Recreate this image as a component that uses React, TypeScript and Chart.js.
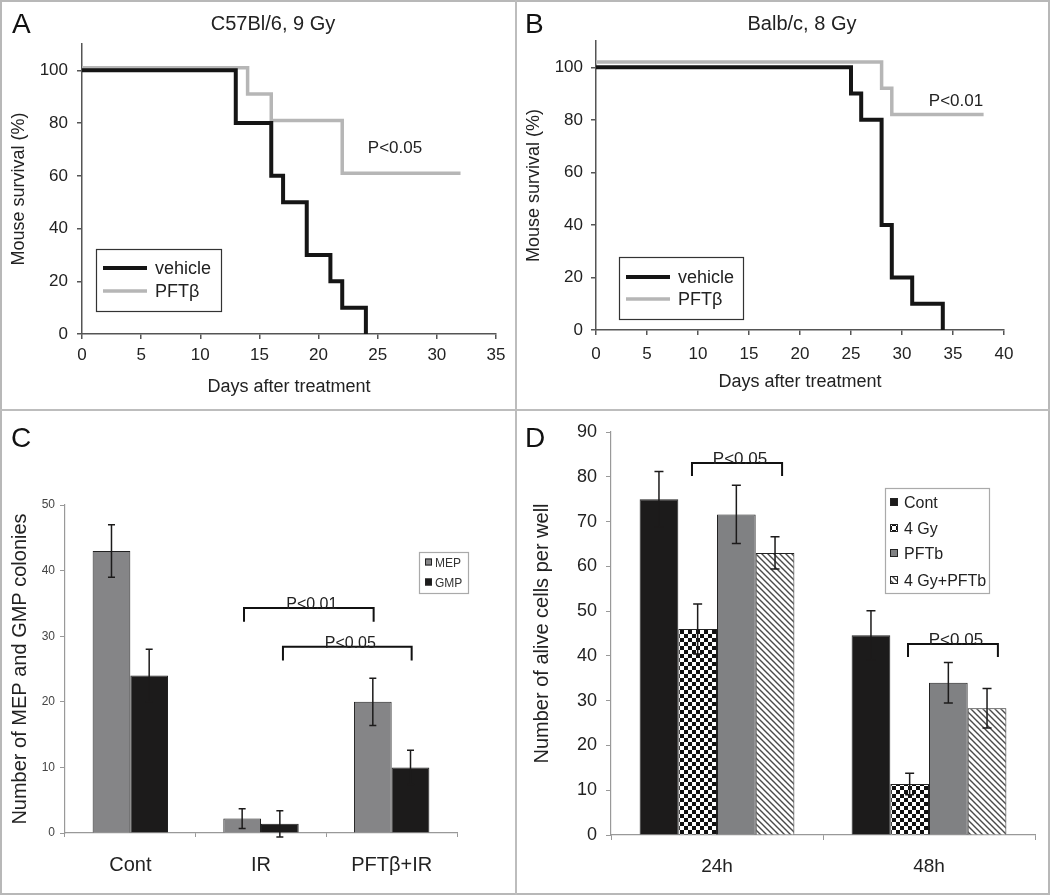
import { useEffect, useRef } from 'react';
import { Chart, registerables } from 'chart.js';
Chart.register(...registerables);

const FONT = '"Liberation Sans", Arial, Helvetica, sans-serif';
const BLACK = '#1c1b1b';

// ---------- Panel A : C57Bl/6, 9 Gy ----------
const titleA = 'C57Bl/6, 9 Gy';
const daysAVehicle = [0, 13, 16, 17, 19, 21, 22, 24];
const survAVehicle = [100, 80, 60, 50, 30, 20, 10, 0];
const daysAPft = [0, 14, 16, 22, 32];
const survAPft = [101, 91, 81, 61, 61];
const pA = 'P<0.05';

// ---------- Panel B : Balb/c, 8 Gy ----------
const titleB = 'Balb/c, 8 Gy';
const daysBVehicle = [0, 25, 26, 28, 29, 31, 34];
const survBVehicle = [100, 90, 80, 40, 20, 10, 0];
const daysBPft = [0, 28, 29, 38];
const survBPft = [102, 92, 82, 82];
const pB = 'P<0.01';

const seriesNames = ['vehicle', 'PFTβ'];

// ---------- Panel C ----------
const catsC = ['Cont', 'IR', 'PFTβ+IR'];
const mepC = [43, 2.2, 20];
const mepErrC = [4, 1.5, 3.6];
const gmpC = [24, 1.4, 10];
const gmpErrC = [4, 2, 2.6];
const bracketsC = [
  { x1: 0.87, x2: 1.862, y: 34.3, drop: 2.1, text: 'P<0.01' },
  { x1: 1.168, x2: 2.153, y: 28.4, drop: 2.1, text: 'P<0.05' },
];

// ---------- Panel D ----------
const catsD = ['24h', '48h'];
const contD = [75, 44.6];
const contErrD = [6.2, 5.5];
const gy4D = [46, 11.4];
const gy4ErrD = [5.6, 2.4];
const pftbD = [71.6, 34];
const pftbErrD = [6.5, 4.5];
const comboD = [63, 28.3];
const comboErrD = [3.6, 4.4];
const bracketsD = [
  { x1: -0.118, x2: 0.307, y: 83.1, drop: 2.9, text: 'P<0.05' },
  { x1: 0.901, x2: 1.325, y: 42.65, drop: 2.9, text: 'P<0.05' },
];

function makeChecker(): CanvasPattern {
  const c = document.createElement('canvas');
  c.width = 8; c.height = 8;
  const g = c.getContext('2d')!;
  g.fillStyle = '#ffffff'; g.fillRect(0, 0, 8, 8);
  g.fillStyle = '#111111'; g.fillRect(0, 0, 4, 4); g.fillRect(4, 4, 4, 4);
  return g.createPattern(c, 'repeat')!;
}
function makeHatch(): CanvasPattern {
  const c = document.createElement('canvas');
  c.width = 6; c.height = 6;
  const g = c.getContext('2d')!;
  g.fillStyle = '#ffffff'; g.fillRect(0, 0, 6, 6);
  g.strokeStyle = '#4a4a4a'; g.lineWidth = 1.4;
  g.beginPath();
  g.moveTo(-1, -1); g.lineTo(7, 7);
  g.moveTo(-1, 5); g.lineTo(1, 7);
  g.moveTo(5, -1); g.lineTo(7, 1);
  g.stroke();
  return g.createPattern(c, 'repeat')!;
}

function overlay(draw: (chart: any) => void) {
  return { id: 'overlay', afterDraw(chart: any) { const ctx = chart.ctx; ctx.save(); draw(chart); ctx.restore(); } };
}

function errorBars(cap: number) {
  return {
    id: 'errbars',
    afterDatasetsDraw(chart: any) {
      const ctx = chart.ctx; const ys = chart.scales.y;
      chart.data.datasets.forEach((ds: any, di: number) => {
        const meta = chart.getDatasetMeta(di);
        meta.data.forEach((bar: any, i: number) => {
          const v = ds.data[i]; const e = ds.errors[i];
          const x = bar.x; const yt = ys.getPixelForValue(v + e); const yb = ys.getPixelForValue(v - e);
          ctx.save(); ctx.strokeStyle = BLACK; ctx.lineWidth = 1.5;
          ctx.beginPath();
          ctx.moveTo(x, yt); ctx.lineTo(x, yb);
          ctx.moveTo(x - cap, yt); ctx.lineTo(x + cap, yt);
          ctx.moveTo(x - cap, yb); ctx.lineTo(x + cap, yb);
          ctx.stroke(); ctx.restore();
        });
      });
    },
  };
}

function drawBrackets(chart: any, list: any[], fontSize: number) {
  const ctx = chart.ctx; const xs = chart.scales.x; const ys = chart.scales.y;
  list.forEach((b) => {
    const x1 = xs.getPixelForValue(b.x1); const x2 = xs.getPixelForValue(b.x2);
    const y = ys.getPixelForValue(b.y); const y2 = ys.getPixelForValue(b.y - b.drop);
    ctx.strokeStyle = '#111'; ctx.lineWidth = 2;
    ctx.beginPath(); ctx.moveTo(x1, y2); ctx.lineTo(x1, y); ctx.lineTo(x2, y); ctx.lineTo(x2, y2); ctx.stroke();
    ctx.fillStyle = '#222'; ctx.font = `${fontSize}px ${FONT}`; ctx.textAlign = 'center'; ctx.textBaseline = 'alphabetic';
    ctx.fillText(b.text, (x1 + x2) / 2 + 3, y + 1);
  });
}

function lineLegend(chart: any, box: number[], lx: number[], tx: number, rowY: number[]) {
  const ctx = chart.ctx;
  ctx.strokeStyle = '#333'; ctx.lineWidth = 1.2;
  ctx.strokeRect(box[0] + 0.5, box[1] + 0.5, box[2], box[3]);
  chart.data.datasets.forEach((ds: any, i: number) => {
    ctx.strokeStyle = ds.borderColor; ctx.lineWidth = ds.borderWidth;
    ctx.beginPath(); ctx.moveTo(lx[0], rowY[i]); ctx.lineTo(lx[1], rowY[i]); ctx.stroke();
    ctx.fillStyle = '#222'; ctx.font = `18px ${FONT}`; ctx.textAlign = 'left'; ctx.textBaseline = 'alphabetic';
    ctx.fillText(ds.label, tx, rowY[i] + 6);
  });
}

function survivalConfig(p: any) {
  return {
    type: 'line',
    data: {
      datasets: [
        { label: seriesNames[0], data: p.vx.map((x: number, i: number) => ({ x, y: p.vy[i] })), borderColor: '#151515', borderWidth: 4, stepped: 'before', pointRadius: 0, fill: false, borderJoinStyle: 'miter' },
        { label: seriesNames[1], data: p.px.map((x: number, i: number) => ({ x, y: p.py[i] })), borderColor: '#b6b6b6', borderWidth: 3.5, stepped: 'before', pointRadius: 0, fill: false, borderJoinStyle: 'miter' },
      ],
    },
    options: {
      animation: false, responsive: false, devicePixelRatio: 1, events: [],
      layout: { padding: { left: 0, top: p.top, right: p.right, bottom: 0 } },
      plugins: { legend: { display: false }, tooltip: { enabled: false } },
      scales: {
        x: {
          type: 'linear', min: 0, max: p.xmax,
          ticks: { stepSize: 5, font: { size: 17, family: FONT }, color: '#222', padding: p.xtp },
          grid: { drawOnChartArea: false, tickLength: 5, color: '#555', lineWidth: 1.5 },
          border: { color: '#555', width: 1.5 },
          title: { display: true, text: 'Days after treatment', font: { size: 18, family: FONT }, color: '#222', padding: { top: 0, bottom: p.xtitle } },
          afterFit(s: any) { s.height = p.xh; s.paddingLeft = 0; s.paddingRight = 0; },
        },
        y: {
          min: 0, max: 110,
          ticks: { stepSize: 20, font: { size: 17, family: FONT }, color: '#222', padding: p.ytp },
          afterBuildTicks(s: any) { s.ticks = s.ticks.filter((t: any) => t.value <= 100); },
          grid: { drawOnChartArea: false, tickLength: 5, color: '#555', lineWidth: 1.5 },
          border: { color: '#555', width: 1.5 },
          title: { display: true, text: 'Mouse survival (%)', font: { size: 18, family: FONT }, color: '#222', padding: { top: p.ytitle, bottom: 0 } },
          afterFit(s: any) { s.width = p.yw; s.paddingTop = 0; s.paddingBottom = 0; },
        },
      },
    },
    plugins: [overlay(p.draw)],
  };
}

function configA() {
  return survivalConfig({
    vx: daysAVehicle, vy: survAVehicle, px: daysAPft, py: survAPft, xmax: 35,
    top: 44, right: 20, xh: 76, yw: 82, xtp: 6, ytp: 9, xtitle: 12, ytitle: 8,
    draw: (chart: any) => {
      const ctx = chart.ctx;
      ctx.fillStyle = '#111'; ctx.textBaseline = 'alphabetic';
      ctx.font = `28px ${FONT}`; ctx.textAlign = 'left'; ctx.fillText('A', 12, 33);
      ctx.font = `20px ${FONT}`; ctx.textAlign = 'center'; ctx.fillStyle = '#222'; ctx.fillText(titleA, 273, 30);
      ctx.font = `17px ${FONT}`; ctx.fillText(pA, 395, 153);
      lineLegend(chart, [96, 249, 125, 62], [103, 147], 155, [268, 291]);
    },
  });
}

function configB() {
  return survivalConfig({
    vx: daysBVehicle, vy: survBVehicle, px: daysBPft, py: survBPft, xmax: 40,
    top: 41, right: 46, xh: 80, yw: 80, xtp: 9, ytp: 8, xtitle: 17, ytitle: 7,
    draw: (chart: any) => {
      const ctx = chart.ctx;
      ctx.fillStyle = '#111'; ctx.textBaseline = 'alphabetic';
      ctx.font = `28px ${FONT}`; ctx.textAlign = 'left'; ctx.fillText('B', 9, 33);
      ctx.font = `20px ${FONT}`; ctx.textAlign = 'center'; ctx.fillStyle = '#222'; ctx.fillText(titleB, 286, 30);
      ctx.font = `17px ${FONT}`; ctx.fillText(pB, 440, 106);
      lineLegend(chart, [103, 257, 124, 62], [110, 154], 162, [277, 299]);
    },
  });
}

function configC() {
  return {
    type: 'bar',
    data: {
      labels: catsC,
      datasets: [
        { label: 'MEP', data: mepC, errors: mepErrC, backgroundColor: '#858587', borderColor: '#222', borderWidth: 1 },
        { label: 'GMP', data: gmpC, errors: gmpErrC, backgroundColor: BLACK, borderColor: '#222', borderWidth: 1 },
      ],
    },
    options: {
      animation: false, responsive: false, devicePixelRatio: 1, events: [],
      layout: { padding: { left: 0, top: 95, right: 59, bottom: 0 } },
      datasets: { bar: { categoryPercentage: 0.577, barPercentage: 1 } },
      plugins: { legend: { display: false }, tooltip: { enabled: false } },
      scales: {
        x: {
          ticks: { font: { size: 20, family: FONT }, color: '#222', padding: 16 },
          grid: { drawOnChartArea: false, tickLength: 4, color: '#999', offset: true },
          border: { color: '#999', width: 1.2 },
          afterFit(s: any) { s.height = 62; s.paddingLeft = 0; s.paddingRight = 0; },
        },
        y: {
          min: 0, max: 50,
          ticks: { stepSize: 10, font: { size: 12, family: FONT }, color: '#444', padding: 5 },
          grid: { drawOnChartArea: false, tickLength: 5, color: '#999' },
          border: { color: '#999', width: 1.2 },
          title: { display: true, text: 'Number of MEP and GMP colonies', font: { size: 20, family: FONT }, color: '#222', padding: { top: 8, bottom: 0 } },
          afterFit(s: any) { s.width = 65; s.paddingTop = 0; s.paddingBottom = 0; },
        },
      },
    },
    plugins: [errorBars(3.5), overlay((chart: any) => {
      const ctx = chart.ctx;
      ctx.fillStyle = '#111'; ctx.textBaseline = 'alphabetic'; ctx.textAlign = 'left';
      ctx.font = `28px ${FONT}`; ctx.fillText('C', 11, 37);
      drawBrackets(chart, bracketsC, 16);
      ctx.strokeStyle = '#aaa'; ctx.lineWidth = 1.2; ctx.strokeRect(419.5, 142.5, 49, 41);
      const rows = [152, 172];
      chart.data.datasets.forEach((ds: any, i: number) => {
        ctx.fillStyle = ds.backgroundColor; ctx.fillRect(425, rows[i] - 3.5, 7, 7);
        ctx.strokeStyle = '#222'; ctx.lineWidth = 1; ctx.strokeRect(425.5, rows[i] - 3, 6, 6);
        ctx.fillStyle = '#333'; ctx.font = `12px ${FONT}`; ctx.textAlign = 'left'; ctx.fillText(ds.label, 435, rows[i] + 4.5);
      });
    })],
  };
}

function configD() {
  const checker = makeChecker();
  const hatch = makeHatch();
  return {
    type: 'bar',
    data: {
      labels: catsD,
      datasets: [
        { label: 'Cont', data: contD, errors: contErrD, backgroundColor: BLACK, borderColor: '#222', borderWidth: 1 },
        { label: '4 Gy', data: gy4D, errors: gy4ErrD, backgroundColor: checker, borderColor: '#222', borderWidth: 1 },
        { label: 'PFTb', data: pftbD, errors: pftbErrD, backgroundColor: '#808183', borderColor: '#222', borderWidth: 1 },
        { label: '4 Gy+PFTb', data: comboD, errors: comboErrD, backgroundColor: hatch, borderColor: '#222', borderWidth: 1 },
      ],
    },
    options: {
      animation: false, responsive: false, devicePixelRatio: 1, events: [],
      layout: { padding: { left: 0, top: 22, right: 15, bottom: 0 } },
      datasets: { bar: { categoryPercentage: 0.73, barPercentage: 1 } },
      plugins: { legend: { display: false }, tooltip: { enabled: false } },
      scales: {
        x: {
          ticks: { font: { size: 19, family: FONT }, color: '#222', padding: 15 },
          grid: { drawOnChartArea: false, tickLength: 5, color: '#999', offset: true },
          border: { color: '#999', width: 1.2 },
          afterFit(s: any) { s.height = 60; s.paddingLeft = 0; s.paddingRight = 0; },
        },
        y: {
          min: 0, max: 90,
          ticks: { stepSize: 10, font: { size: 18, family: FONT }, color: '#222', padding: 9 },
          grid: { drawOnChartArea: false, tickLength: 5, color: '#999' },
          border: { color: '#999', width: 1.2 },
          title: { display: true, text: 'Number of alive cells per well', font: { size: 20, family: FONT }, color: '#222', padding: { top: 14, bottom: 0 } },
          afterFit(s: any) { s.width = 95; s.paddingTop = 0; s.paddingBottom = 0; },
        },
      },
    },
    plugins: [errorBars(4.5), overlay((chart: any) => {
      const ctx = chart.ctx;
      ctx.fillStyle = '#111'; ctx.textBaseline = 'alphabetic'; ctx.textAlign = 'left';
      ctx.font = `28px ${FONT}`; ctx.fillText('D', 9, 37);
      drawBrackets(chart, bracketsD, 17);
      ctx.strokeStyle = '#aaa'; ctx.lineWidth = 1.2; ctx.strokeRect(369.5, 78.5, 104, 105);
      const rows = [92, 118, 143, 170];
      chart.data.datasets.forEach((ds: any, i: number) => {
        ctx.fillStyle = ds.backgroundColor; ctx.fillRect(374, rows[i] - 4, 8, 8);
        ctx.strokeStyle = '#222'; ctx.lineWidth = 1; ctx.strokeRect(374.5, rows[i] - 3.5, 7, 7);
        ctx.fillStyle = '#222'; ctx.font = `16px ${FONT}`; ctx.textAlign = 'left'; ctx.fillText(ds.label, 388, rows[i] + 6);
      });
    })],
  };
}

function Panel({ left, top, width, height, make }: { left: number; top: number; width: number; height: number; make: () => any }) {
  const ref = useRef<HTMLCanvasElement>(null);
  useEffect(() => {
    const chart = new Chart(ref.current as HTMLCanvasElement, make());
    return () => chart.destroy();
  }, []);
  return <canvas ref={ref} width={width} height={height} style={{ position: 'absolute', left, top, width, height }} />;
}

export default function App() {
  return (
    <div style={{ position: 'absolute', left: 0, top: 0, width: 1050, height: 895, background: '#fff', overflow: 'hidden' }}>
      <Panel left={0} top={0} width={516} height={410} make={configA} />
      <Panel left={516} top={0} width={534} height={410} make={configB} />
      <Panel left={0} top={410} width={516} height={485} make={configC} />
      <Panel left={516} top={410} width={534} height={485} make={configD} />
      <div style={{ position: 'absolute', left: 0, top: 0, width: 1050, height: 895, border: '2px solid #b8b8b8', boxSizing: 'border-box', pointerEvents: 'none' }} />
      <div style={{ position: 'absolute', left: 515, top: 0, width: 2, height: 895, background: '#bdbdbd', pointerEvents: 'none' }} />
      <div style={{ position: 'absolute', left: 0, top: 409, width: 1050, height: 2, background: '#bdbdbd', pointerEvents: 'none' }} />
    </div>
  );
}
